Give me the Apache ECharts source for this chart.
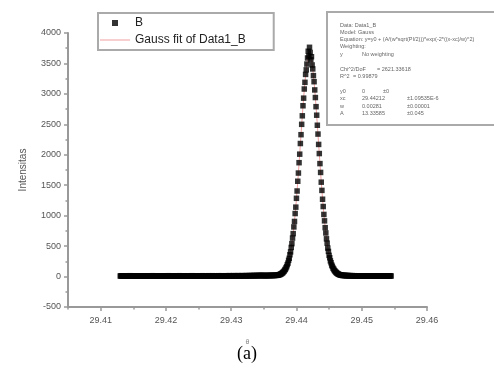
<!DOCTYPE html>
<html><head><meta charset="utf-8">
<script src="https://cdn.jsdelivr.net/npm/echarts@6/dist/echarts.min.js"></script>
<style>html,body{margin:0;padding:0;background:#fff}#c{width:494px;height:370px}</style>
</head><body><div id="c"></div>
<script>
// ---- data ----
var xStart = 29.4130, xStep = 0.0001;
var baseLeft = [
9,11,8,12,10,7,11,13,9,10,8,12,11,9,10,14,8,11,10,9,
12,10,8,11,9,13,10,7,11,12,9,10,13,8,11,10,12,9,8,11,
10,13,9,11,8,12,10,11,9,14,10,8,12,11,9,10,13,11,8,10,
11,9,12,10,8,13,11,10,9,12,10,11,8,12,14,9,10,11,13,10,
9,12,10,11,13,8,10,12,11,9,10,14,11,9,12,10,8,11,13,10,
12,10,11,9,13,11,10,12,9,11,14,10,12,11,9,13,10,12,11,10,
11,13,10,12,9,11,14,10,12,11,13,10,9,12,11,14,12,10,13,11,
12,11,14,10,13,12,11,13,10,12,14,11,13,12,10,14,12,13,11,12,
13,12,11,14,12,13,11,15,12,13,12,14,11,13,15,12,14,13,12,14,
13,15,12,14,13,12,15,14,13,14,12,15,14,13,16,14,13,15,14,16,
14,15,16,14,15,17,15,16,15,17,16,15,17,16,18,17,16,18,17,18,
15,16,15,17,16,17,16,18,17,16,18,17,18,19,18,19,18,19,20,19];
var peakLeft = [20,22,24,28,32,35,42,47,57,64,77,88,106,120,143,163,195,221,266,300,
358,405,478,540,632,705,815,905,1035,1140,1285,1405,1565,1700,1870,2010,2185,2330,2500,2640,
2805,2930,3080,3190,3320,3395,3490,3590,3700,3620];
var peakTop = [3765];
var peakRight = [3680,3560,3610,3475,3410,3300,3200,3065,2940,2790,2650,2485,2340,2170,2020,1855,1710,1550,1415,1270,
1150,1020,915,803,716,620,548,468,413,348,308,258,227,189,167,139,123,102,90,75,
66,55,49,40,37,30,29,24,23,19];
var baseRight = [18,19,17,18,16,17,16,15,16,15,14,15,14,13,15,14,13,12,14,13,
12,13,11,12,13,11,12,10,12,11,13,10,11,12,10,11,9,12,10,11,
10,12,9,11,10,8,11,10,12,9,10,11,8,10,12,9,11,10,8,10,
11,9,10,12,8,10,9,11,10,8,12,9,10,11,9];
var fitX = [29.4130,29.4376,29.4378,29.4380,29.4382,29.4384,29.4386,29.4388,29.4390,29.4392,29.4394,29.4396,
29.4398,29.4400,29.4402,29.4404,29.4406,29.4408,29.4410,29.4412,29.4414,29.4416,29.4418,29.4420,
29.4422,29.4424,29.4426,29.4428,29.4430,29.4432,29.4434,29.4436,29.4438,29.4440,29.4442,29.4444,
29.4446,29.4448,29.4450,29.4452,29.4454,29.4456,29.4458,29.4460,29.4462,29.4464,29.4545];
var fitY = [12,41,56,76,104,141,192,262,352,472,625,808,1025,1275,1555,1860,2175,2490,2795,3070,3305,3500,3620,
3680,3620,3500,3305,3070,2795,2490,2175,1860,1555,1275,1025,808,625,472,352,262,192,141,104,76,56,41,12];
var xTickLabels = [29.41,29.42,29.43,29.44,29.45,29.46];
var seriesNames = ['B','Gauss fit of Data1_B'];
var infoLines = [
  ['Data: Data1_B'],['Model: Gauss'],
  ['Equation: y=y0 + (A/(w*sqrt(PI/2)))*exp(-2*((x-xc)/w)^2)'],['Weighting:'],
  ['y','No weighting'],
  ['Chi^2/DoF','= 2621.33618'],['R^2','= 0.99879'],
  ['y0','0','±0'],['xc','29.44212','±1.09535E-6'],['w','0.00281','±0.00001'],['A','13.33585','±0.045']
];

// ---- build ----
var yAll = baseLeft.concat(peakLeft, peakTop, peakRight, baseRight);
var scatterData = yAll.map(function(v,i){ return [+(xStart + i*xStep).toFixed(4), v]; });
var fitData = fitX.map(function(x,i){ return [x, fitY[i]]; });

var rowsY = [25,32,39,46.5,54,69,76,91,98,106,113];
var g = [{type:'rect', shape:{x:327,y:12,width:172,height:113}, style:{fill:'#fff',stroke:'#aaa',lineWidth:2}, z:10}];
infoLines.forEach(function(r,i){
  var xs;
  if (i===5) xs=[340,377]; else if (i===6) xs=[340,353];
  else if (i===7) xs=[340,362,383]; else xs=[340,362,407];
  r.forEach(function(t,j){
    g.push({type:'text', x:xs[j], y:rowsY[i], z:11,
      style:{text:t, fill:'#666', font:'5.5px "Liberation Sans", Arial', textVerticalAlign:'middle'}});
  });
});
g.push({type:'text', left:'center', top:345, z:11,
  style:{text:'(a)', fill:'#000', font:'18px "Liberation Serif", "Times New Roman", serif'}});

var chart = echarts.init(document.getElementById('c'));
chart.setOption({
  animation:false,
  backgroundColor:'#fff',
  grid:{left:68,right:67,top:33,bottom:63,outerBoundsMode:'none'},
  legend:{
    left:98, top:13, orient:'vertical', padding:[4,28,4,2], itemGap:5,
    itemWidth:30, itemHeight:6, borderColor:'#aaa', borderWidth:2,
    textStyle:{fontSize:12, color:'#222', fontFamily:'"Liberation Sans", Arial'},
    data:[
      {name:seriesNames[0], icon:'path://M0,0L0.01,0M12,0h6v6h-6zM29.99,6L30,6'},
      {name:seriesNames[1], icon:'path://M0,0L0.01,0M0,2.25h30v1.5h-30zM29.99,6L30,6'}
    ]
  },
  xAxis:[{
    type:'value', min:29.405, max:29.46, position:'bottom',
    name:'θ', nameLocation:'middle', nameGap:32,
    nameTextStyle:{fontSize:7,color:'#888',fontFamily:'"Liberation Sans", Arial'},
    axisLine:{show:true,onZero:false,lineStyle:{color:'#999',width:2}},
    axisTick:{show:true,length:4,customValues:xTickLabels,lineStyle:{color:'#999',width:1.5}},
    axisLabel:{customValues:xTickLabels,margin:9,fontSize:9,color:'#555',fontFamily:'"Liberation Sans", Arial',
      formatter:function(v){return (+v).toFixed(2);}},
    splitLine:{show:false}
  },{
    type:'value', min:29.405, max:29.46, interval:0.005, position:'bottom',
    axisLine:{show:false,onZero:false}, axisLabel:{show:false},
    axisTick:{show:true,length:2.5,lineStyle:{color:'#999',width:1.5}},
    splitLine:{show:false}
  }],
  yAxis:{
    type:'value', min:-500, max:4000, interval:500,
    name:'Intensitas', nameLocation:'middle', nameGap:40,
    nameTextStyle:{fontSize:10,color:'#555',fontFamily:'"Liberation Sans", Arial'},
    axisLine:{show:true,onZero:false,lineStyle:{color:'#999',width:2}},
    axisTick:{show:true,length:4,lineStyle:{color:'#999',width:1.5}},
    minorTick:{show:true,splitNumber:2,length:2.5,lineStyle:{color:'#999',width:1.5}},
    axisLabel:{margin:7,fontSize:9,color:'#555',fontFamily:'"Liberation Sans", Arial',
      formatter:function(v){return String(v);}},
    splitLine:{show:false}
  },
  series:[
    {name:seriesNames[1], type:'line', data:fitData, showSymbol:false, symbol:'none',
      itemStyle:{color:'#f6c0c0'}, lineStyle:{color:'#f2a0a0',width:1}, z:2},
    {name:seriesNames[0], type:'scatter', data:scatterData, symbol:'rect', symbolSize:5.5,
      itemStyle:{color:'#000'}, z:3}
  ],
  graphic:g
});
</script></body></html>
